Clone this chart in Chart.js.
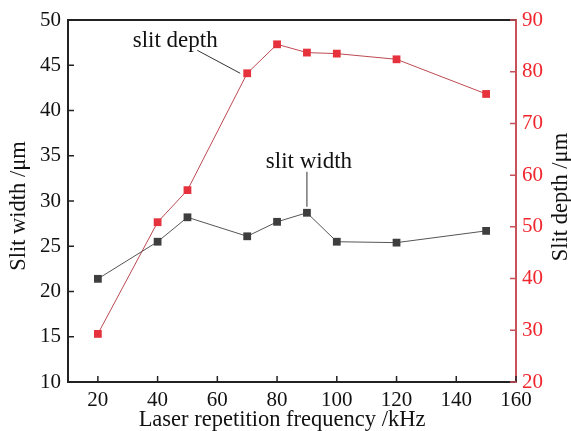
<!DOCTYPE html>
<html>
<head>
<meta charset="utf-8">
<script src="https://cdn.jsdelivr.net/npm/chart.js@4"></script>
<style>
  html, body { margin: 0; padding: 0; background: #fff; }
  #wrap { width: 571px; height: 431px; }
</style>
</head>
<body>
<div id="wrap"><canvas id="chart" width="571" height="431"></canvas></div>
<script>
const freq = [20, 40, 50, 70, 80, 90, 100, 120, 150];
const slitWidth = [21.4, 25.5, 28.2, 26.1, 27.7, 28.7, 25.5, 25.4, 26.7];
const slitDepth = [29.3, 50.9, 57.1, 79.7, 85.3, 83.7, 83.5, 82.4, 75.7];

const xTicks = [20, 40, 60, 80, 100, 120, 140, 160];
const widthTicks = [10, 15, 20, 25, 30, 35, 40, 45, 50];
const depthTicks = [20, 30, 40, 50, 60, 70, 80, 90];

const FONT = "'Liberation Serif', serif";
const RED = '#f0262e';
const RED_AXIS = '#c9525a';

// inward tick marks, top frame line, rotated y titles, leader labels
const extras = {
  id: 'extras',
  afterDraw(chart) {
    const ctx = chart.ctx;
    const { left, right, top, bottom } = chart.chartArea;
    const x = chart.scales.x, y = chart.scales.y, y1 = chart.scales.y1;
    ctx.save();

    // top frame
    ctx.strokeStyle = '#222';
    ctx.lineWidth = 2;
    ctx.beginPath();
    ctx.moveTo(left - 1, top);
    ctx.lineTo(right, top);
    ctx.stroke();

    // tick marks pointing into the plot
    ctx.lineWidth = 1.5;
    ctx.strokeStyle = '#222';
    ctx.beginPath();
    x.ticks.forEach(t => {
      const px = x.getPixelForValue(t.value);
      ctx.moveTo(px, bottom);
      ctx.lineTo(px, bottom - 6);
    });
    y.ticks.forEach(t => {
      const py = y.getPixelForValue(t.value);
      ctx.moveTo(left, py);
      ctx.lineTo(left + 6, py);
    });
    ctx.stroke();
    ctx.strokeStyle = RED_AXIS;
    ctx.beginPath();
    y1.ticks.forEach(t => {
      const py = y1.getPixelForValue(t.value);
      ctx.moveTo(right, py);
      ctx.lineTo(right - 6, py);
    });
    ctx.stroke();

    // axis titles
    ctx.fillStyle = '#111';
    ctx.font = '22.5px ' + FONT;
    ctx.textAlign = 'center';
    ctx.textBaseline = 'middle';
    ctx.fillText('Laser repetition frequency /kHz', (left + right) / 2 - 10, 420);
    ctx.save();
    ctx.translate(19, (top + bottom) / 2 + 5);
    ctx.rotate(-Math.PI / 2);
    ctx.fillText('Slit width /μm', 0, 0);
    ctx.restore();
    ctx.save();
    ctx.translate(561, (top + bottom) / 2 - 4);
    ctx.rotate(-Math.PI / 2);
    ctx.fillText('Slit depth /μm', 0, 0);
    ctx.restore();

    // leader labels
    const dMeta = chart.getDatasetMeta(1).data[3];
    const wMeta = chart.getDatasetMeta(0).data[5];
    ctx.strokeStyle = '#333';
    ctx.lineWidth = 1;
    ctx.beginPath();
    ctx.moveTo(dMeta.x - 50, dMeta.y - 23);
    ctx.lineTo(dMeta.x - 7, dMeta.y);
    ctx.moveTo(wMeta.x, wMeta.y - 41);
    ctx.lineTo(wMeta.x, wMeta.y - 6);
    ctx.stroke();
    ctx.font = '23px ' + FONT;
    ctx.fillText('slit depth', dMeta.x - 72, dMeta.y - 32);
    ctx.fillText('slit width', wMeta.x + 2, wMeta.y - 51);

    ctx.restore();
  }
};

new Chart(document.getElementById('chart'), {
  type: 'line',
  data: {
    datasets: [{
      label: 'slit width',
      data: freq.map((f, i) => ({ x: f, y: slitWidth[i] })),
      yAxisID: 'y',
      borderColor: '#555',
      borderWidth: 1,
      pointStyle: 'rect',
      pointRadius: 5.5,
      pointBackgroundColor: '#3e3e3e',
      pointBorderColor: '#3e3e3e',
      pointBorderWidth: 0
    }, {
      label: 'slit depth',
      data: freq.map((f, i) => ({ x: f, y: slitDepth[i] })),
      yAxisID: 'y1',
      borderColor: '#bd4a52',
      borderWidth: 1,
      pointStyle: 'rect',
      pointRadius: 5.5,
      pointBackgroundColor: '#e5323d',
      pointBorderColor: '#e5323d',
      pointBorderWidth: 0
    }]
  },
  options: {
    responsive: false,
    animation: false,
    layout: { padding: { top: 20, left: 0, right: 0, bottom: 0 } },
    plugins: {
      legend: { display: false },
      tooltip: { enabled: false }
    },
    scales: {
      x: {
        type: 'linear',
        min: 10,
        max: 160,
        afterBuildTicks: s => { s.ticks = xTicks.map(v => ({ value: v })); },
        afterFit: s => { s.height = 49; },
        grid: { drawOnChartArea: false, drawTicks: false },
        border: { color: '#222', width: 2 },
        ticks: { color: '#111', font: { family: FONT, size: 21 }, padding: 6 }
      },
      y: {
        position: 'left',
        min: 10,
        max: 50,
        afterBuildTicks: s => { s.ticks = widthTicks.map(v => ({ value: v })); },
        afterFit: s => { s.width = 68; },
        grid: { drawOnChartArea: false, drawTicks: false },
        border: { color: '#222', width: 2 },
        ticks: { color: '#111', font: { family: FONT, size: 21 }, padding: 7 }
      },
      y1: {
        position: 'right',
        min: 20,
        max: 90,
        afterBuildTicks: s => { s.ticks = depthTicks.map(v => ({ value: v })); },
        afterFit: s => { s.width = 55; },
        grid: { drawOnChartArea: false, drawTicks: false },
        border: { color: RED_AXIS, width: 2 },
        ticks: { color: RED, font: { family: FONT, size: 21 }, padding: 6 }
      }
    }
  },
  plugins: [extras]
});
</script>
</body>
</html>
